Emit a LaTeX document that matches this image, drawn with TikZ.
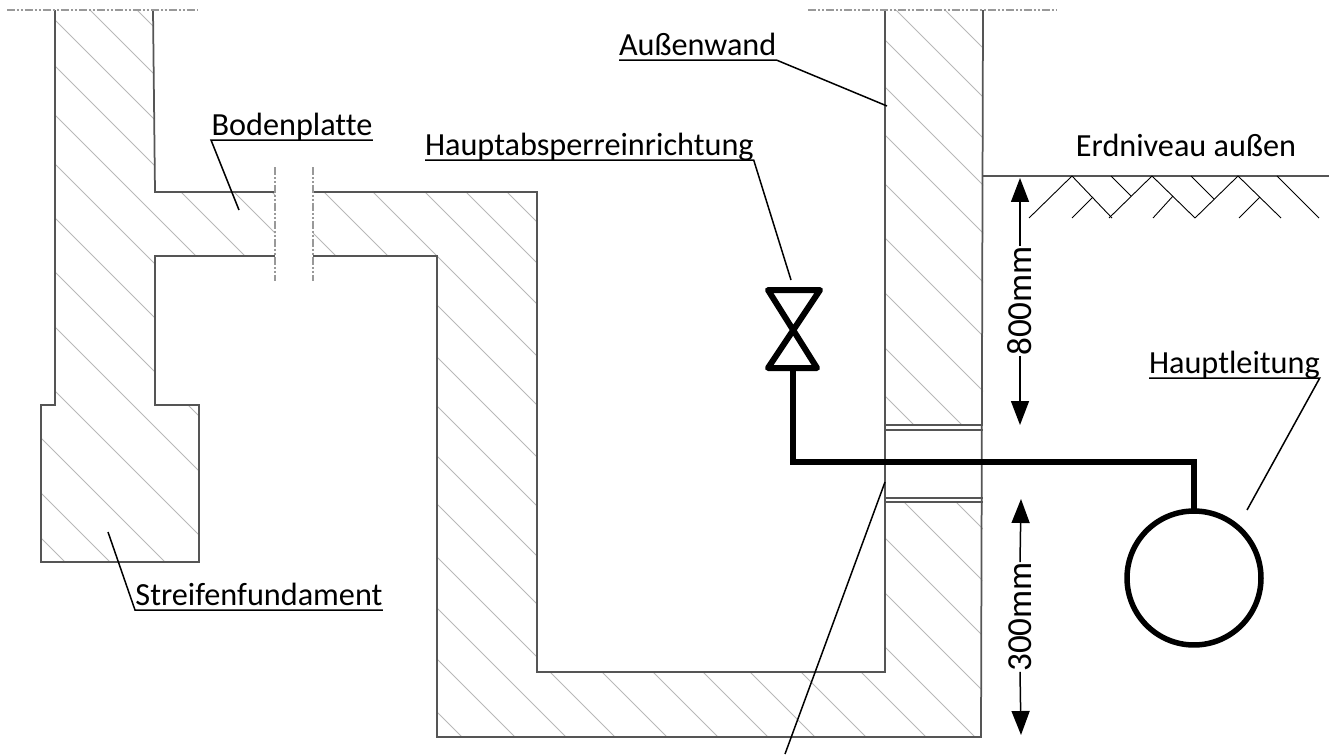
\documentclass[tikz,border=0pt]{standalone}
\usepackage{xcolor}
\usepackage{fontspec}
\setmainfont{Carlito}[Ligatures=NoCommon]
\usetikzlibrary{arrows.meta}
\definecolor{wallcolor}{HTML}{555555}
\definecolor{hatchcolor}{HTML}{B8B8B8}
\tikzset{
  wallline/.style={draw=wallcolor, line width=0.035cm, line join=miter},
  hatchline/.style={draw=hatchcolor, line width=0.02cm},
  axisline/.style={draw=wallcolor!60, line width=0.03cm, dash pattern=on 0.16cm off 0.04cm on 0.04cm off 0.04cm on 0.04cm off 0.04cm},
  groundline/.style={draw=black, line width=0.018cm},
  leader/.style={draw=black, line width=0.03cm},
  pipeline/.style={draw=black, line width=0.12cm, line join=round},
  tagtext/.style={inner sep=0pt, outer sep=0pt, anchor=south west, text height=0.5cm, text depth=0.1cm, font=\fontsize{18.35pt}{22pt}\selectfont},
  dimtext/.style={inner sep=0pt, outer sep=0pt, rotate=90, font=\fontsize{20pt}{24pt}\selectfont},
  dimarrow/.style={draw=black, line width=0.03cm, -{Triangle[width=0.36cm,length=0.48cm]}},
}
\begin{document}
\begin{tikzpicture}[x=0.02cm,y=-0.02cm]
\useasboundingbox (0,0) rectangle (1338,754);
% hatching of the left foundation
\begin{scope}
\clip (55,10) -- (153,10) -- (155,192) -- (275,192) -- (275,256) -- (155,256) -- (155,405) -- (199,405) -- (199,562) -- (41,562) -- (41,405) -- (55,405) -- cycle;
\foreach \i in {-127,-80,11,60,109,163,217,272,336,397,452,497}
  \draw[hatchline] (30,{30+\i}) -- (290,{290+\i});
\draw[hatchline] (30,-5) -- (160,125);
\draw[hatchline] (160,118) -- (290,248);
\end{scope}
% hatching of slab, outer wall and bottom
\begin{scope}
\clip (885,10) -- (983,10) -- (983,425) -- (885,425) -- cycle
  (885,502) -- (983,502) -- (981,737) -- (437,737) -- (437,256) -- (313,256) -- (313,192) -- (537,192) -- (537,672) -- (885,672) -- cycle;
\foreach \i in {-315,-274,-233,-181,-132,-80,-31,19,67,120,171,222,275}
  \draw[hatchline] (290,{290+\i}) -- (540,{540+\i});
\foreach \i in {-935,-886,-845,-798,-750,-701,-647,-592,-537,-489,-454,-402,-347,-292,-238,-189,-129,-78,-31,19,70,122,171}
  \draw[hatchline] (540,{540+\i}) -- (1000,{1000+\i});
\end{scope}
% walls
\draw[wallline] (153,10) -- (155,192) -- (275,192);
\draw[wallline] (275,256) -- (155,256) -- (155,405) -- (199,405) -- (199,562) -- (41,562) -- (41,405) -- (55,405) -- (55,10);
\draw[wallline] (313,192) -- (537,192) -- (537,672) -- (885,672) -- (885,10);
\draw[wallline] (313,256) -- (437,256) -- (437,737) -- (981,737) -- (983,10);
\draw[wallline] (885,425) -- (983,425);
\draw[wallline] (885,430) -- (983,430);
\draw[wallline] (885,498) -- (983,498);
\draw[wallline] (885,502) -- (983,502);
% cut lines
\draw[axisline] (7,10) -- (198,10);
\draw[axisline] (808,10) -- (1057,10);
\draw[axisline] (275,167) -- (275,281);
\draw[axisline] (313,167) -- (313,281);
% ground
\draw[wallline] (983,176) -- (1329,176);
\foreach \a/\b/\c/\d in {1029/218/1072/176,1072/176/1112/218,1072/218/1093/197,1111/176/1131/196,1109/218/1152/176,1152/176/1195/218,1153/218/1173/196,1191/176/1214/199,1195/218/1238/176,1238/176/1281/218,1239/218/1260/197,1277/176/1319/218}
  \draw[groundline] (\a,\b) -- (\c,\d);
\node[font=\fontsize{18.35pt}{22pt}\selectfont, anchor=base, inner sep=0pt] (erdniveau) at (1186,156) {Erdniveau außen};
% pipe and valve
\node[circle, draw=black, line width=0.11cm, minimum size=2.68cm, inner sep=0pt, outer sep=0pt] (hauptrohr) at (1194,578) {};
\coordinate (valvetop) at (793,290);
\coordinate (valvebot) at (793,368);
\coordinate (bendleft) at (793,462);
\coordinate (bendright) at (1194,462);
\draw[pipeline] (768,290) -- (820,290) -- (768,368) -- (817,368) -- cycle;
\draw[pipeline, line join=miter] (valvebot) -- (bendleft) -- (bendright) -- (hauptrohr.north);
% labels
\node[tagtext, minimum width=3.24cm] (bodenplatte) at (211,140) {Bodenplatte};
\node[tagtext, minimum width=6.56cm] (absperrung) at (425,160) {Hauptabsperreinrichtung};
\node[tagtext, minimum width=3.12cm] (aussenwand) at (619,60) {Außenwand};
\node[tagtext, minimum width=4.96cm] (fundament) at (135,610) {Streifenfundament};
\node[tagtext, minimum width=3.36cm] (hauptleitung) at (1149,378) {Hauptleitung};
\coordinate (bodenend) at (239,210);
\coordinate (absperrend) at (791,280);
\coordinate (wandend) at (887,106);
\coordinate (fundend) at (108,532);
\coordinate (leitungend) at (1247,510);
\coordinate (sleevetop) at (885,482);
\coordinate (sleeveend) at (785,754);
\draw[leader] (bodenend) -- (bodenplatte.south west) -- (bodenplatte.south east);
\draw[leader] (absperrung.south west) -- (absperrung.south east) -- (absperrend);
\draw[leader] (aussenwand.south west) -- (aussenwand.south east) -- (wandend);
\draw[leader] (fundend) -- (fundament.south west) -- (fundament.south east);
\draw[leader] (hauptleitung.south west) -- (hauptleitung.south east) -- (leitungend);
\draw[leader] (sleevetop) -- (sleeveend);
% dimensions
\node[dimtext] (dimtop) at (1020,301) {800mm};
\node[dimtext] (dimbot) at (1020,617) {300mm};
\coordinate (dimtopa) at (1020,178);
\coordinate (dimtopb) at (1020,425);
\coordinate (dimbota) at (1021,499);
\coordinate (dimbotb) at (1021,735);
\draw[dimarrow] (dimtop.east) -- (dimtopa);
\draw[dimarrow] (dimtop.west) -- (dimtopb);
\draw[dimarrow] (dimbot.east) -- (dimbota);
\draw[dimarrow] (dimbot.west) -- (dimbotb);
\end{tikzpicture}
\end{document}
